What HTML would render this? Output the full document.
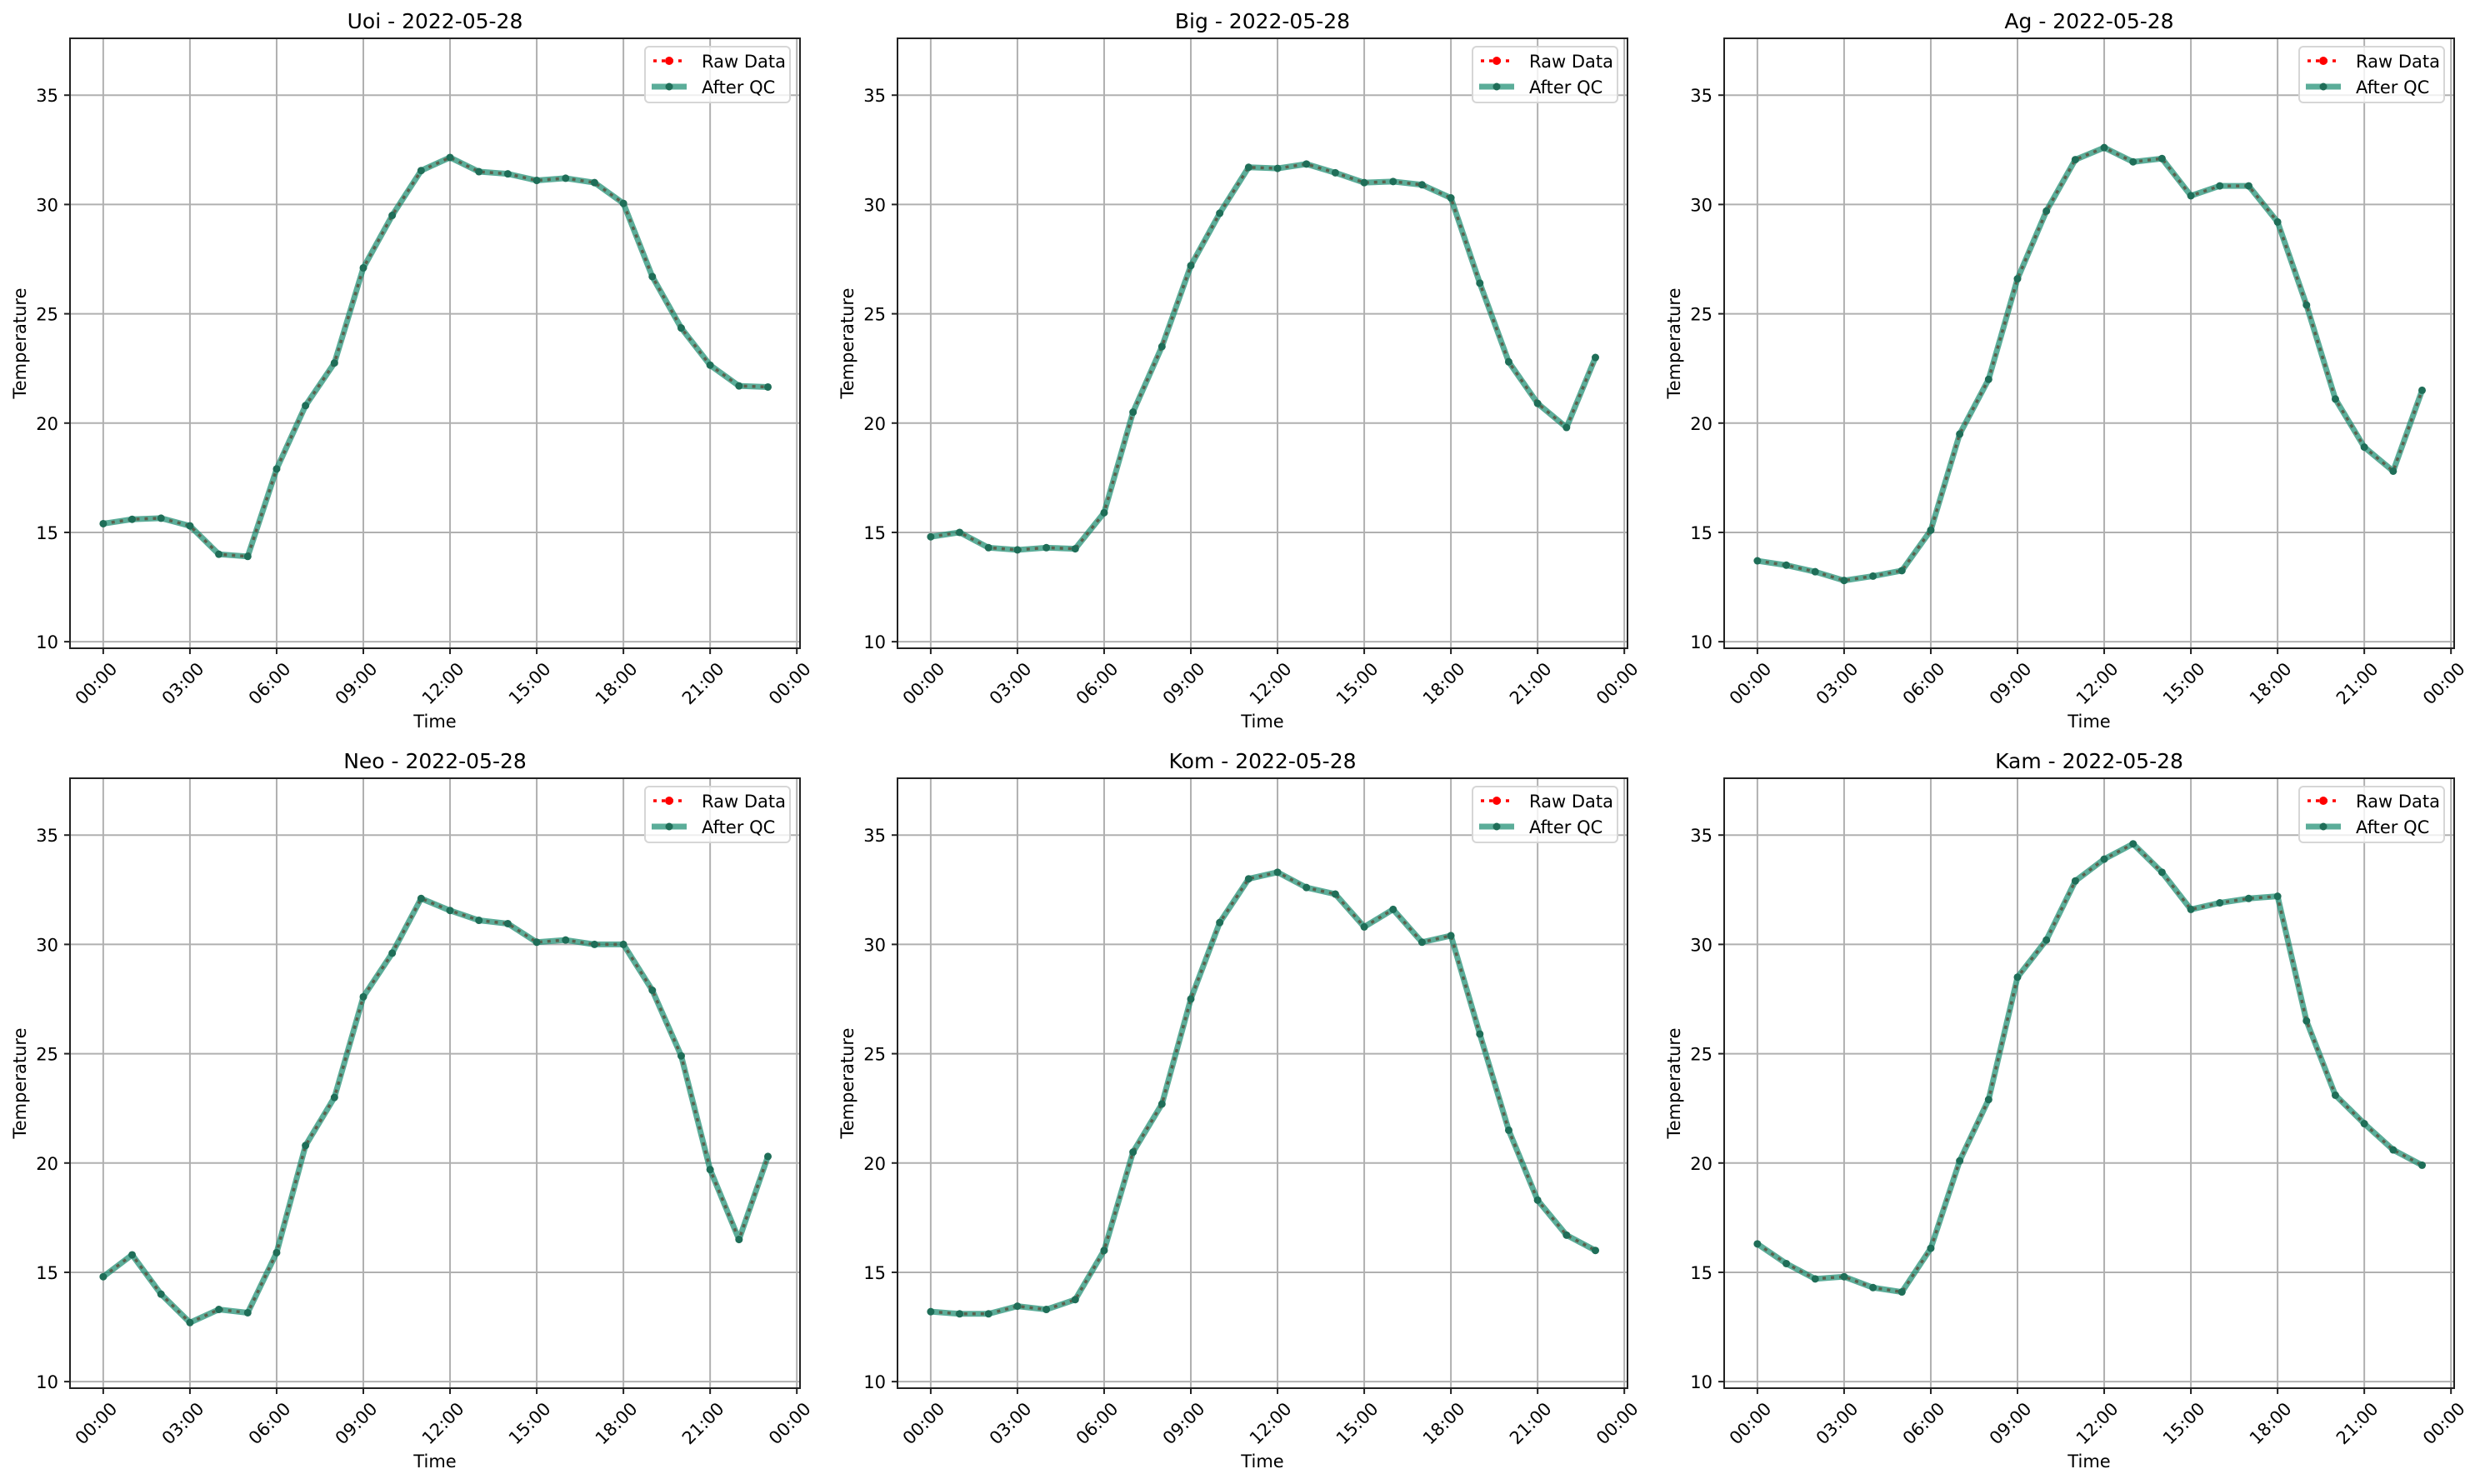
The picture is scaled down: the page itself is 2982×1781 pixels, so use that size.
<!DOCTYPE html>
<html><head><meta charset="utf-8">
<style>
html,body{margin:0;padding:0;background:#fff;}
svg{display:block;font-family:"DejaVu Sans","Liberation Sans",sans-serif;}
</style></head>
<body>
<svg id="fig" width="2982" height="1781" viewBox="0 0 2982 1781" xmlns="http://www.w3.org/2000/svg"></svg>
<script>
const stations = ["Uoi","Big","Ag","Neo","Kom","Kam"];
const dateLabel = "2022-05-28";
const hours = [0,1,2,3,4,5,6,7,8,9,10,11,12,13,14,15,16,17,18,19,20,21,22,23];
const uoiTemps = [15.4,15.6,15.65,15.3,14.0,13.9,17.9,20.8,22.75,27.1,29.5,31.55,32.15,31.5,31.4,31.1,31.2,31.0,30.05,26.7,24.35,22.65,21.7,21.65];
const bigTemps = [14.8,15.0,14.3,14.2,14.3,14.25,15.9,20.5,23.5,27.2,29.6,31.7,31.65,31.85,31.45,31.0,31.05,30.9,30.3,26.4,22.8,20.9,19.8,23.0];
const agTemps = [13.7,13.5,13.2,12.8,13.0,13.25,15.1,19.5,22.0,26.6,29.7,32.05,32.6,31.95,32.1,30.4,30.85,30.85,29.2,25.4,21.1,18.9,17.8,21.5];
const neoTemps = [14.8,15.8,14.0,12.7,13.3,13.15,15.9,20.8,23.0,27.6,29.6,32.1,31.55,31.1,30.95,30.1,30.2,30.0,30.0,27.9,24.9,19.7,16.5,20.3];
const komTemps = [13.2,13.1,13.1,13.45,13.3,13.75,16.0,20.5,22.7,27.5,31.0,33.0,33.3,32.6,32.3,30.8,31.6,30.1,30.4,25.9,21.5,18.3,16.7,16.0];
const kamTemps = [16.3,15.4,14.7,14.8,14.3,14.1,16.1,20.1,22.9,28.5,30.2,32.9,33.9,34.6,33.3,31.6,31.9,32.1,32.2,26.5,23.1,21.8,20.6,19.9];
const seriesList = [uoiTemps,bigTemps,agTemps,neoTemps,komTemps,kamTemps];
const xTickHours = [0,3,6,9,12,15,18,21,24];
const xTickLabels = ["00:00","03:00","06:00","09:00","12:00","15:00","18:00","21:00","00:00"];
const yTicks = [10,15,20,25,30,35];

const NS="http://www.w3.org/2000/svg";
const svg=document.getElementById('fig');
function mk(tag,attrs,parent){const e=document.createElementNS(NS,tag);for(const k in attrs)e.setAttribute(k,attrs[k]);(parent||svg).appendChild(e);return e;}

const W=876,H=732;
const lefts=[84,1077,2069], tops=[46,934];
const xMin=-1.15,xMax=24.11,yMin=9.7,yMax=37.6;

seriesList.forEach((vals,i)=>{
  const L=lefts[i%3], T=tops[Math.floor(i/3)];
  const sx=h=>L+(h-xMin)/(xMax-xMin)*W;
  const sy=v=>T+H-(v-yMin)/(yMax-yMin)*H;
  const g=mk('g',{});
  
  
  // grid
  xTickHours.forEach(h=>{const l=mk('line',{x1:sx(h),x2:sx(h),y1:T,y2:T+H,stroke:'#b0b0b0','stroke-width':2},g);
    });
  yTicks.forEach(v=>{const l=mk('line',{x1:L,x2:L+W,y1:sy(v),y2:sy(v),stroke:'#b0b0b0','stroke-width':2},g);
    });
  // series
  const pts=hours.map((h,k)=>sx(h)+','+sy(vals[k])).join(' ');
  const raw=mk('polyline',{points:pts,fill:'none',stroke:'#ff0000','stroke-width':3.5,'stroke-dasharray':'4,6'},g);
  
  hours.forEach((h,k)=>{const c=mk('circle',{cx:sx(h),cy:sy(vals[k]),r:4,fill:'#ff0000'},g);
    });
  const qc=mk('polyline',{points:pts,fill:'none',stroke:'rgba(22,138,110,0.7)','stroke-width':7,'stroke-linejoin':'round'},g);
  
  hours.forEach((h,k)=>{const c=mk('circle',{cx:sx(h),cy:sy(vals[k]),r:4.5,fill:'#1f6e58'},g);
    });
  // spines
  const fr=mk('rect',{x:L,y:T,width:W,height:H,fill:'none',stroke:'#222','stroke-width':2},g);
  
  // x ticks
  xTickHours.forEach((h,k)=>{
    const tk=mk('line',{x1:sx(h),x2:sx(h),y1:T+H,y2:T+H+7,stroke:'#222','stroke-width':2},g);
    
    const tx=sx(h)+18, ty=T+H+26;
    const t=mk('text',{x:tx,y:ty,'text-anchor':'end','font-size':21,fill:'#000',transform:`rotate(-45 ${tx} ${ty})`},g);
    t.textContent=xTickLabels[k];
    
  });
  yTicks.forEach(v=>{
    const tk=mk('line',{x1:L-7,x2:L,y1:sy(v),y2:sy(v),stroke:'#222','stroke-width':2},g);
    
    const t=mk('text',{x:L-14,y:sy(v)+8,'text-anchor':'end','font-size':21,fill:'#000'},g);
    t.textContent=v;
    
  });
  const xl=mk('text',{x:L+W/2,y:T+H+95,'text-anchor':'middle','font-size':21,fill:'#000'},g);
  xl.textContent='Time';
  const yx=L-53, yy=T+H/2;
  const yl=mk('text',{x:yx,y:yy,'text-anchor':'middle','font-size':21,fill:'#000',transform:`rotate(-90 ${yx} ${yy})`},g);
  yl.textContent='Temperature';
  const ti=mk('text',{x:L+W/2,y:T-12,'text-anchor':'middle','font-size':25,fill:'#000'},g);
  ti.textContent=stations[i]+' - '+dateLabel;
  // legend
  const lg=mk('g',{},g);
  
  const bx=L+W-186, by=T+10;
  mk('rect',{x:bx,y:by,width:174,height:67,rx:5,fill:'rgba(255,255,255,0.8)',stroke:'#d6d6d6','stroke-width':2},lg);
  const e1=mk('g',{},lg);
  mk('line',{x1:bx+10,x2:bx+48,y1:by+17,y2:by+17,stroke:'#ff0000','stroke-width':3.5,'stroke-dasharray':'4,6'},e1);
  mk('circle',{cx:bx+29,cy:by+17,r:5,fill:'#ff0000'},e1);
  const t1=mk('text',{x:bx+68,y:by+25,'font-size':21,fill:'#000'},e1);t1.textContent='Raw Data';
  const e2=mk('g',{},lg);
  mk('line',{x1:bx+8,x2:bx+50,y1:by+48,y2:by+48,stroke:'rgba(22,138,110,0.7)','stroke-width':7},e2);
  mk('circle',{cx:bx+29,cy:by+48,r:4.5,fill:'#1f6e58'},e2);
  const t2=mk('text',{x:bx+68,y:by+56,'font-size':21,fill:'#000'},e2);t2.textContent='After QC';
});
</script>
</body></html>
